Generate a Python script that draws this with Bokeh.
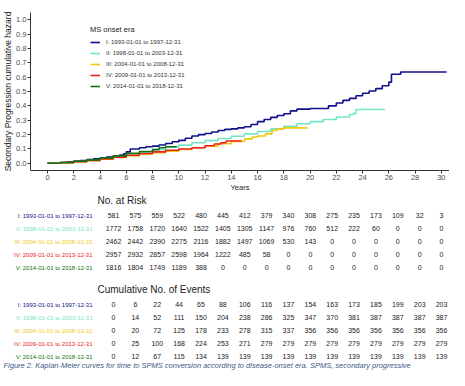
from bokeh.plotting import figure
from bokeh.models import (Range1d, FixedTicker, PrintfTickFormatter,
                          Legend, LegendItem)
from bokeh.layouts import column, row
from bokeh.embed import file_html
from bokeh.resources import INLINE
from bokeh.core.properties import value

FONT = "Liberation Sans"

# ---------------- data ----------------
eras = ["I: 1993-01-01 to 1997-12-31",
        "II: 1998-01-01 to 2003-12-31",
        "III: 2004-01-01 to 2008-12-31",
        "IV: 2009-01-01 to 2013-12-31",
        "V: 2014-01-01 to 2018-12-31"]
colors = ["#101088", "#74E6C6", "#F2C813", "#E8231B", "#137313"]

t_I = [0, 0.5, 1, 1.5, 2, 2.5, 3, 3.5, 4, 4.5, 5, 5.5, 5.8, 6.0, 6.3, 7, 7.5, 8, 8.5, 9,
       9.5, 10, 10.5, 11, 11.5, 12, 12.5, 13, 13.5, 14, 14.5, 15, 15.5, 16, 16.5, 17,
       17.5, 18, 18.5, 19, 20, 20.9, 21.4, 22, 22.5, 23, 23.5, 24, 24.5, 25, 25.5, 26,
       26.2, 26.9, 30.4]
h_I = [0, 0.002, 0.006, 0.010, 0.015, 0.020, 0.026, 0.031, 0.037, 0.044, 0.051, 0.058,
       0.066, 0.080, 0.100, 0.108, 0.115, 0.120, 0.128, 0.138, 0.150, 0.160, 0.175, 0.190,
       0.200, 0.208, 0.218, 0.228, 0.236, 0.240, 0.247, 0.255, 0.270, 0.290, 0.305, 0.320,
       0.333, 0.345, 0.365, 0.377, 0.382, 0.382, 0.400, 0.420, 0.438, 0.452, 0.470, 0.488,
       0.503, 0.520, 0.540, 0.565, 0.620, 0.636, 0.636]

t_II = [0, 1, 2, 3, 4, 5, 6, 7, 8, 9, 10, 11, 12, 13, 14, 15, 16, 17, 18, 19, 20, 21, 22,
        23, 23.3, 23.5, 25.7]
h_II = [0, 0.006, 0.013, 0.022, 0.034, 0.046, 0.062, 0.078, 0.095, 0.112, 0.127, 0.143,
        0.158, 0.173, 0.188, 0.205, 0.222, 0.240, 0.258, 0.275, 0.290, 0.305, 0.322, 0.340,
        0.347, 0.375, 0.375]

t_III = [0, 1, 2, 3, 4, 5, 6, 7, 8, 9, 10, 11, 12, 13, 14, 15, 15.6, 16, 16.6, 17.1, 17.5,
         18, 19.8]
h_III = [0, 0.004, 0.010, 0.018, 0.028, 0.040, 0.052, 0.063, 0.074, 0.085, 0.096, 0.108,
         0.120, 0.136, 0.152, 0.170, 0.183, 0.190, 0.205, 0.228, 0.238, 0.247, 0.247]

t_IV = [0, 1, 2, 3, 4, 5, 6, 7, 8, 9, 10, 11, 12, 12.7, 13.2, 13.6, 14.8]
h_IV = [0, 0.005, 0.012, 0.020, 0.031, 0.043, 0.056, 0.068, 0.080, 0.091, 0.100, 0.108,
        0.122, 0.135, 0.143, 0.155, 0.155]

t_V = [0, 1, 2, 3, 4, 5, 6, 7, 8, 8.5, 9, 9.8]
h_V = [0, 0.006, 0.014, 0.024, 0.038, 0.052, 0.070, 0.082, 0.095, 0.108, 0.115, 0.120]

x_ticks = [0, 2, 4, 6, 8, 10, 12, 14, 16, 18, 20, 22, 24, 26, 28, 30]
y_ticks = [0.0, 0.1, 0.2, 0.3, 0.4, 0.5, 0.6, 0.7, 0.8, 0.9, 1.0]

table_times = [0, 2, 4, 6, 8, 10, 12, 14, 16, 18, 20, 22, 24, 26, 28, 30]
risk_I = [581, 575, 559, 522, 480, 445, 412, 379, 340, 308, 275, 235, 173, 109, 32, 3]
risk_II = [1772, 1758, 1720, 1640, 1522, 1405, 1305, 1147, 976, 760, 512, 222, 60, 0, 0, 0]
risk_III = [2462, 2442, 2390, 2275, 2116, 1882, 1497, 1069, 530, 143, 0, 0, 0, 0, 0, 0]
risk_IV = [2957, 2932, 2857, 2598, 1964, 1222, 485, 58, 0, 0, 0, 0, 0, 0, 0, 0]
risk_V = [1816, 1804, 1749, 1189, 388, 0, 0, 0, 0, 0, 0, 0, 0, 0, 0, 0]

events_I = [0, 6, 22, 44, 65, 88, 106, 116, 137, 154, 163, 173, 185, 199, 203, 203]
events_II = [0, 14, 52, 111, 150, 204, 238, 286, 325, 347, 370, 381, 387, 387, 387, 387]
events_III = [0, 20, 72, 125, 178, 233, 278, 315, 337, 356, 356, 356, 356, 356, 356, 356]
events_IV = [0, 25, 100, 168, 224, 253, 271, 279, 279, 279, 279, 279, 279, 279, 279, 279]
events_V = [0, 12, 67, 115, 134, 139, 139, 139, 139, 139, 139, 139, 139, 139, 139, 139]

caption = ("Figure 2. Kaplan-Meier curves for time to SPMS conversion according to "
           "disease-onset era. SPMS, secondary progressive")

curves = [(t_I, h_I), (t_II, h_II), (t_III, h_III), (t_IV, h_IV), (t_V, h_V)]
risk = [risk_I, risk_II, risk_III, risk_IV, risk_V]
events = [events_I, events_II, events_III, events_IV, events_V]

# ---------------- KM plot ----------------
W = 449
H1 = 194
p = figure(width=W, height=H1, output_backend="svg", toolbar_location=None,
           x_range=Range1d(-1.295, 30.62), y_range=Range1d(-0.05, 1.05),
           min_border_left=0, min_border_right=0, min_border_top=12, min_border_bottom=0)
p.outline_line_color = None
p.grid.visible = False

items = []
for (t, h), c, lab in zip(curves, colors, eras):
    r = p.step(t, h, mode="after", line_color=c, line_width=1.6)
    items.append(LegendItem(label=lab, renderers=[r]))

leg = Legend(items=items, location=(60, 80), title="MS onset era",
             title_text_font=FONT, title_text_font_size="7.5px", title_text_font_style="normal",
             title_text_color="#222222", title_standoff=4,
             label_text_font=FONT, label_text_font_size="6px", label_text_color="#333333",
             glyph_width=10, glyph_height=8, label_height=8, spacing=3, label_standoff=6,
             padding=0, margin=0, border_line_alpha=0, background_fill_alpha=0)
p.add_layout(leg)

for ax in (p.xaxis, p.yaxis):
    ax.axis_line_color = "#333333"
    ax.axis_line_width = 1
    ax.major_tick_line_color = "#333333"
    ax.major_tick_out = 3
    ax.major_tick_in = 0
    ax.minor_tick_line_color = None
    ax.major_label_text_font = FONT
    ax.major_label_text_font_size = "7.5px"
    ax.major_label_text_color = "#4d4d4d"
    ax.major_label_standoff = 1
    ax.axis_label_text_font = FONT
    ax.axis_label_text_font_style = "normal"
    ax.axis_label_text_color = "#222222"
    ax.axis_label_standoff = 0

p.xaxis.ticker = FixedTicker(ticks=x_ticks)
p.yaxis.ticker = FixedTicker(ticks=y_ticks)
p.yaxis.formatter = PrintfTickFormatter(format="%.1f")
p.xaxis.axis_label = "Years"
p.xaxis.axis_label_text_font_size = "7.5px"
p.yaxis.axis_label = "Secondary Progression cumulative hazard"
p.yaxis.axis_label_text_font_size = "8.5px"

# ---------------- tables ----------------
H2 = 370 - H1
q = figure(width=W, height=H2, output_backend="svg", toolbar_location=None,
           x_range=Range1d(-10.334, 30.727), y_range=Range1d(370, H1),
           x_axis_location=None, y_axis_location=None, min_border=0)
q.outline_line_color = None
q.grid.visible = False

risk_title_y, risk_y0 = 200.0, 215.0
ev_title_y, ev_y0 = 289.0, 304.0
row_step = 13.0
label_x = -1.92
title_x = -1.463

q.text(x=[title_x, title_x], y=[risk_title_y, ev_title_y],
       text=["No. at Risk", "Cumulative No. of Events"],
       text_align="left", text_baseline="middle", text_font=value(FONT),
       text_font_size="10px", text_color="#222222")

for block, y0 in ((risk, risk_y0), (events, ev_y0)):
    ys = [y0 + i * row_step for i in range(len(eras))]
    q.text(x=[label_x] * len(eras), y=ys, text=eras, text_color=colors,
           text_align="right", text_baseline="middle", text_font=value(FONT),
           text_font_size="6px")
    xs, yy, tx = [], [], []
    for i, vals in enumerate(block):
        for t, v in zip(table_times, vals):
            xs.append(t)
            yy.append(ys[i])
            tx.append(str(v))
    q.text(x=xs, y=yy, text=tx, text_align="center", text_baseline="middle",
           text_font=value(FONT), text_font_size="7px", text_color="#1a1a1a")

q.text(x=[-10.06], y=[365], text=[caption], text_align="left", text_baseline="middle",
       text_font=value(FONT), text_font_size="7.5px", text_font_style="italic",
       text_color="#3d5a86")

layout = column(row(p), row(q), spacing=0)
open("out.html", "w").write(file_html(layout, INLINE))
